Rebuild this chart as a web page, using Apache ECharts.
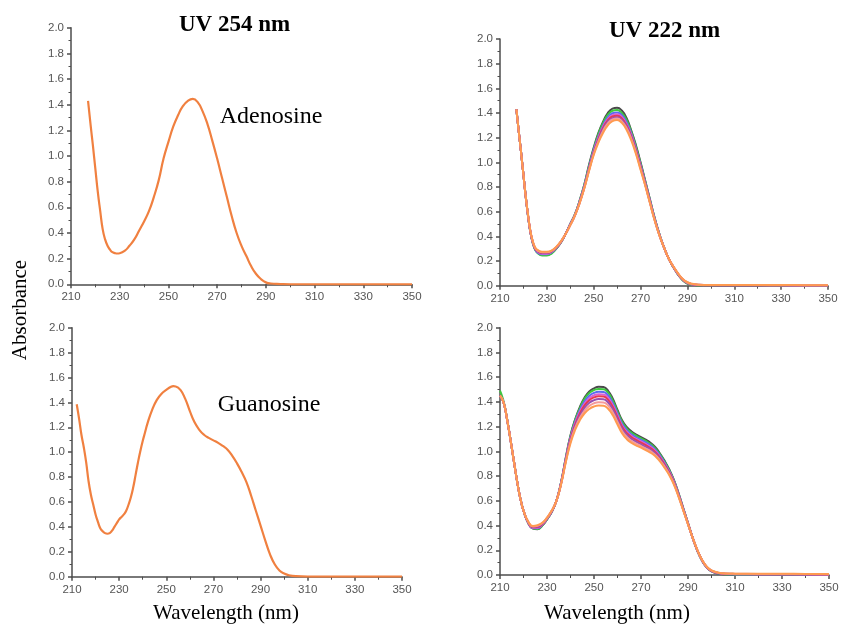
<!DOCTYPE html>
<html>
<head>
<meta charset="utf-8">
<script src="https://cdn.jsdelivr.net/npm/echarts@6/dist/echarts.min.js"></script>
<style>
  html, body { margin: 0; padding: 0; background: #fff; }
  #chart { width: 843px; height: 628px; }
</style>
</head>
<body>
<div id="chart"></div>
<script>
// ---------- Adenosine, UV 254 nm (single spectrum) ----------
const wlAdo = [217,218,219,220,221,222,223,224,225,226,227,228,229,230,232,234,236,238,240,242,244,246,248,250,252,254,256,258,260,262,264,266,268,270,272,274,276,278,280,282,284,286,288,290,292,296,300,310,320,330,340,350];
const absAdo = [1.43,1.25,1.08,0.90,0.72,0.57,0.43,0.35,0.30,0.27,0.25,0.243,0.24,0.242,0.26,0.30,0.35,0.42,0.49,0.57,0.68,0.81,0.98,1.11,1.23,1.32,1.39,1.43,1.445,1.42,1.35,1.25,1.12,0.98,0.83,0.68,0.53,0.40,0.30,0.22,0.14,0.08,0.04,0.015,0.006,0.002,0,0,0,0,0,0];

// ---------- Guanosine, UV 254 nm (single spectrum) ----------
const wlGuo = [212,213,214,215,216,217,218,219,220,221,222,223,224,225,226,227,228,229,230,231,232,233,234,235,236,237,238,239,240,241,242,244,246,248,250,252,253,254,256,258,260,262,264,266,268,270,272,274,276,278,280,282,284,286,288,290,292,294,296,298,300,302,305,310,320,330,340,350];
const absGuo = [1.385,1.27,1.14,1.04,0.92,0.77,0.66,0.58,0.50,0.44,0.39,0.365,0.35,0.345,0.35,0.37,0.40,0.43,0.46,0.48,0.50,0.53,0.58,0.64,0.72,0.82,0.92,1.01,1.09,1.16,1.23,1.34,1.42,1.47,1.50,1.525,1.53,1.528,1.50,1.43,1.33,1.24,1.18,1.14,1.115,1.095,1.075,1.05,1.02,0.97,0.91,0.84,0.76,0.65,0.53,0.41,0.29,0.18,0.10,0.05,0.025,0.012,0.004,0.001,0.001,0.001,0.001,0.001];

// ---------- Adenosine, UV 222 nm (eight exposures) ----------
const wlAdo222 = [217,218,219,220,221,222,223,224,225,226,228,230,232,234,236,238,240,242,244,246,248,250,252,254,256,258,260,262,264,266,268,270,272,274,276,278,280,282,284,286,288,290,292,295,300,310,320,330,340,350];
const ado222Black  = [1.43,1.25,1.08,0.90,0.72,0.56,0.43,0.345,0.295,0.27,0.25,0.25,0.265,0.30,0.35,0.42,0.50,0.58,0.69,0.82,0.98,1.12,1.24,1.33,1.40,1.435,1.443,1.42,1.36,1.26,1.14,1.00,0.85,0.70,0.55,0.42,0.31,0.22,0.15,0.09,0.045,0.018,0.008,0.004,0.002,0.002,0.002,0.002,0.001,0.001];
const ado222Green  = [1.43,1.25,1.08,0.90,0.72,0.56,0.43,0.345,0.29,0.265,0.245,0.245,0.26,0.30,0.35,0.42,0.50,0.58,0.69,0.82,0.97,1.11,1.23,1.32,1.385,1.418,1.425,1.40,1.345,1.25,1.13,0.99,0.845,0.695,0.55,0.42,0.31,0.22,0.15,0.09,0.045,0.018,0.008,0.004,0.002,0.002,0.002,0.002,0.001,0.001];
const ado222Blue   = [1.43,1.25,1.08,0.90,0.72,0.56,0.43,0.35,0.295,0.27,0.255,0.255,0.27,0.305,0.355,0.42,0.50,0.575,0.685,0.81,0.96,1.10,1.21,1.30,1.365,1.398,1.405,1.382,1.325,1.235,1.115,0.98,0.835,0.69,0.545,0.418,0.31,0.22,0.152,0.092,0.048,0.021,0.01,0.005,0.003,0.003,0.003,0.003,0.002,0.002];
const ado222Pink   = [1.43,1.25,1.08,0.90,0.72,0.565,0.435,0.35,0.30,0.275,0.26,0.26,0.275,0.305,0.355,0.42,0.495,0.575,0.68,0.805,0.95,1.09,1.20,1.29,1.35,1.383,1.39,1.368,1.31,1.225,1.105,0.97,0.83,0.685,0.54,0.415,0.31,0.22,0.152,0.094,0.05,0.023,0.011,0.006,0.004,0.003,0.003,0.003,0.002,0.002];
const ado222Red    = [1.43,1.25,1.08,0.90,0.72,0.565,0.435,0.355,0.30,0.28,0.265,0.265,0.278,0.31,0.355,0.42,0.495,0.572,0.675,0.80,0.945,1.08,1.19,1.28,1.34,1.372,1.378,1.356,1.30,1.215,1.10,0.965,0.825,0.68,0.538,0.413,0.31,0.22,0.153,0.096,0.051,0.024,0.012,0.006,0.004,0.004,0.004,0.003,0.003,0.003];
const ado222Purple = [1.43,1.25,1.08,0.90,0.72,0.565,0.437,0.355,0.305,0.282,0.268,0.268,0.28,0.31,0.357,0.42,0.493,0.571,0.673,0.797,0.94,1.075,1.18,1.27,1.328,1.359,1.365,1.344,1.29,1.205,1.09,0.957,0.82,0.677,0.535,0.412,0.31,0.22,0.154,0.097,0.052,0.025,0.013,0.007,0.005,0.004,0.004,0.004,0.003,0.003];
const ado222Salmon = [1.43,1.25,1.08,0.90,0.72,0.568,0.438,0.358,0.307,0.285,0.272,0.272,0.283,0.313,0.358,0.42,0.492,0.57,0.671,0.793,0.935,1.068,1.17,1.255,1.315,1.348,1.355,1.332,1.278,1.193,1.08,0.948,0.815,0.673,0.532,0.411,0.31,0.22,0.155,0.098,0.053,0.026,0.014,0.007,0.005,0.005,0.005,0.004,0.004,0.003];
const ado222Orange = [1.43,1.25,1.08,0.90,0.72,0.57,0.44,0.36,0.31,0.29,0.275,0.275,0.285,0.315,0.36,0.42,0.49,0.57,0.67,0.79,0.93,1.06,1.16,1.24,1.30,1.335,1.343,1.32,1.265,1.18,1.07,0.94,0.81,0.67,0.53,0.41,0.31,0.22,0.155,0.10,0.055,0.028,0.015,0.008,0.006,0.005,0.005,0.005,0.004,0.003];

// ---------- Guanosine, UV 222 nm (eight exposures) ----------
const wlGuo222 = [210,211,212,213,214,215,216,217,218,219,220,222,224,226,228,230,232,234,236,238,240,242,244,246,248,250,252,254,256,258,260,262,264,266,268,270,272,274,276,278,280,282,284,286,288,290,292,294,296,298,300,303,306,310,320,330,340,350];
const guo222Black  = [1.45,1.42,1.36,1.26,1.15,1.03,0.91,0.79,0.68,0.59,0.52,0.42,0.375,0.37,0.40,0.45,0.51,0.60,0.75,0.95,1.13,1.26,1.36,1.435,1.485,1.51,1.523,1.52,1.49,1.425,1.335,1.25,1.195,1.16,1.135,1.115,1.095,1.07,1.035,0.985,0.925,0.855,0.77,0.66,0.54,0.42,0.30,0.195,0.115,0.06,0.03,0.012,0.006,0.004,0.004,0.003,0.003,0.002];
const guo222Green  = [1.49,1.44,1.37,1.265,1.15,1.03,0.91,0.79,0.68,0.59,0.52,0.42,0.377,0.372,0.40,0.45,0.51,0.60,0.75,0.945,1.125,1.255,1.35,1.425,1.472,1.495,1.505,1.503,1.474,1.41,1.322,1.238,1.184,1.15,1.125,1.105,1.085,1.06,1.026,0.977,0.918,0.85,0.766,0.657,0.538,0.419,0.30,0.196,0.116,0.061,0.031,0.013,0.007,0.005,0.004,0.004,0.003,0.003];
const guo222Blue   = [1.45,1.42,1.36,1.26,1.15,1.03,0.91,0.79,0.68,0.59,0.52,0.422,0.38,0.378,0.405,0.453,0.512,0.60,0.748,0.94,1.115,1.24,1.335,1.405,1.45,1.473,1.482,1.48,1.452,1.39,1.305,1.222,1.17,1.136,1.112,1.092,1.072,1.048,1.015,0.967,0.909,0.842,0.76,0.652,0.535,0.417,0.30,0.197,0.117,0.062,0.032,0.014,0.008,0.006,0.005,0.005,0.004,0.003];
const guo222Pink   = [1.45,1.42,1.36,1.26,1.15,1.03,0.91,0.79,0.68,0.59,0.52,0.424,0.383,0.383,0.408,0.455,0.513,0.60,0.745,0.935,1.105,1.228,1.32,1.387,1.43,1.453,1.462,1.46,1.433,1.373,1.29,1.208,1.157,1.124,1.10,1.08,1.06,1.037,1.005,0.958,0.902,0.836,0.755,0.648,0.532,0.416,0.30,0.198,0.118,0.063,0.033,0.015,0.009,0.007,0.006,0.006,0.005,0.004];
const guo222Red    = [1.45,1.42,1.36,1.26,1.15,1.03,0.91,0.79,0.68,0.59,0.52,0.426,0.386,0.388,0.411,0.457,0.515,0.60,0.742,0.93,1.097,1.217,1.307,1.372,1.414,1.436,1.445,1.443,1.416,1.358,1.276,1.196,1.146,1.114,1.09,1.07,1.05,1.027,0.996,0.95,0.895,0.83,0.75,0.645,0.53,0.415,0.30,0.199,0.119,0.064,0.034,0.016,0.01,0.008,0.007,0.007,0.006,0.005];
const guo222Purple = [1.45,1.42,1.36,1.26,1.15,1.03,0.91,0.79,0.68,0.59,0.52,0.428,0.39,0.393,0.415,0.46,0.517,0.60,0.74,0.925,1.088,1.204,1.29,1.352,1.393,1.414,1.423,1.421,1.395,1.338,1.259,1.181,1.132,1.10,1.077,1.057,1.037,1.015,0.985,0.94,0.886,0.822,0.744,0.64,0.527,0.413,0.30,0.20,0.12,0.065,0.035,0.017,0.011,0.009,0.008,0.008,0.007,0.006];
const guo222Salmon = [1.45,1.42,1.36,1.26,1.15,1.03,0.91,0.79,0.68,0.59,0.52,0.43,0.393,0.398,0.418,0.462,0.519,0.60,0.737,0.918,1.077,1.19,1.272,1.33,1.368,1.389,1.397,1.395,1.37,1.315,1.238,1.163,1.115,1.084,1.062,1.043,1.023,1.002,0.973,0.93,0.877,0.815,0.738,0.636,0.524,0.412,0.30,0.201,0.121,0.066,0.036,0.018,0.012,0.01,0.009,0.009,0.008,0.007];
const guo222Orange = [1.45,1.42,1.36,1.26,1.15,1.03,0.91,0.79,0.68,0.59,0.52,0.432,0.396,0.403,0.422,0.465,0.521,0.60,0.734,0.912,1.066,1.175,1.253,1.308,1.343,1.363,1.37,1.368,1.344,1.292,1.217,1.145,1.098,1.068,1.047,1.03,1.01,0.99,0.962,0.92,0.868,0.808,0.732,0.632,0.521,0.41,0.30,0.202,0.122,0.067,0.037,0.019,0.013,0.011,0.01,0.01,0.009,0.008];

// Colours of the eight exposure traces, drawn in this order (orange on top)
const traceColors = ['#4a4a4a', '#3ec83e', '#5a6cf0', '#d862d8', '#e8384f', '#9a4fb0', '#f59a9a', '#ff9a50'];
const ado222Sets = [ado222Black, ado222Green, ado222Blue, ado222Pink, ado222Red, ado222Purple, ado222Salmon, ado222Orange];
const guo222Sets = [guo222Black, guo222Green, guo222Blue, guo222Pink, guo222Red, guo222Purple, guo222Salmon, guo222Orange];

// Axis ranges
const xMin = 210, xMax = 350, xStep = 20;
const yMin = 0, yMax = 2, yStep = 0.2;

// ---------- chart construction ----------
const pairs = (wl, vals) => wl.map((w, i) => [w, vals[i]]);

const grids = [
  { left: 71,  top: 27.7,  width: 341, height: 256.6 },
  { left: 500, top: 39,    width: 328, height: 246.7 },
  { left: 72,  top: 327.7, width: 330, height: 249 },
  { left: 500, top: 327.7, width: 329, height: 247.3 }
];

const tickFont = { fontFamily: '"Liberation Sans", Arial, sans-serif', fontSize: 11.5, color: '#555555' };
const axisLineStyle = { color: '#4d4d4d', width: 1.5 };

const xAxes = grids.map((g, i) => ({
  type: 'value', gridIndex: i, min: xMin, max: xMax, interval: xStep,
  axisLine: { show: true, onZero: false, lineStyle: axisLineStyle },
  axisTick: { show: true, inside: false, length: 4, lineStyle: axisLineStyle },
  minorTick: { show: true, splitNumber: 2, length: 3, lineStyle: { color: '#4d4d4d', width: 1 } },
  splitLine: { show: false },
  axisLabel: Object.assign({ margin: 7 }, tickFont)
}));

const yAxes = grids.map((g, i) => ({
  type: 'value', gridIndex: i, min: yMin, max: yMax, interval: yStep,
  axisLine: { show: true, lineStyle: axisLineStyle },
  axisTick: { show: true, inside: false, length: 4, lineStyle: axisLineStyle },
  minorTick: { show: true, splitNumber: 2, length: 2.5, lineStyle: { color: '#4d4d4d', width: 1 } },
  splitLine: { show: false },
  axisLabel: Object.assign({ margin: 7, formatter: v => v.toFixed(1) }, tickFont)
}));

const lineSeries = (idx, data, color, width) => ({
  type: 'line', xAxisIndex: idx, yAxisIndex: idx, data: data,
  showSymbol: false, smooth: 0.5, silent: true,
  lineStyle: { color: color, width: width }
});

const series = [];
series.push(lineSeries(0, pairs(wlAdo, absAdo), '#f08040', 2.2));
ado222Sets.forEach((vals, k) => series.push(lineSeries(1, pairs(wlAdo222, vals), traceColors[k], 2)));
series.push(lineSeries(2, pairs(wlGuo, absGuo), '#f08040', 2.2));
guo222Sets.forEach((vals, k) => series.push(lineSeries(3, pairs(wlGuo222, vals), traceColors[k], 2)));

const serif = '"Liberation Serif", "Times New Roman", serif';
const label = (text, x, y, font, extra) => Object.assign({
  type: 'text', x: x, y: y, silent: true,
  style: { text: text, font: font, fill: '#000', align: 'center', verticalAlign: 'middle' }
}, extra || {});

const chart = echarts.init(document.getElementById('chart'), null, { renderer: 'canvas' });
chart.setOption({
  animation: false,
  backgroundColor: '#ffffff',
  grid: grids,
  xAxis: xAxes,
  yAxis: yAxes,
  series: series,
  graphic: [
    label('UV 254 nm', 234.5, 25.5, 'bold 23px ' + serif),
    label('UV 222 nm', 664.5, 31.5, 'bold 23px ' + serif),
    label('Adenosine', 271, 117, '24px ' + serif),
    label('Guanosine', 269, 405, '24px ' + serif),
    label('Wavelength (nm)', 226, 613, '21px ' + serif),
    label('Wavelength (nm)', 617, 613, '21px ' + serif),
    label('Absorbance', 20, 310, '21px ' + serif, { rotation: Math.PI / 2 })
  ]
});
</script>
</body>
</html>
